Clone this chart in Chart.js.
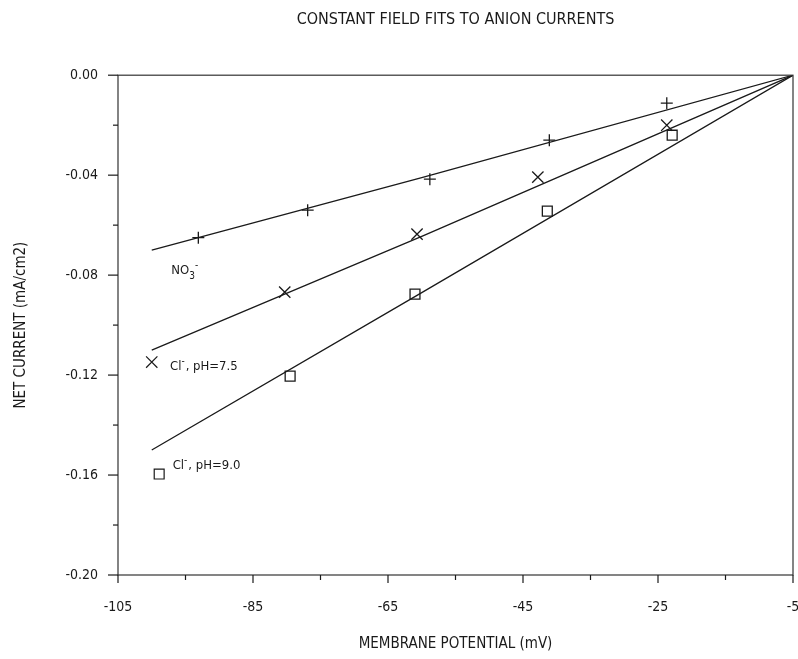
<!DOCTYPE html>
<html>
<head>
<meta charset="utf-8">
<script src="https://cdn.jsdelivr.net/npm/chart.js@4.4.1/dist/chart.umd.min.js"></script>
<style>
  html, body { margin: 0; padding: 0; background: #fff; overflow: hidden; }
  #chart { display: block; }
</style>
</head>
<body>
<canvas id="chart" width="798" height="659"></canvas>
<script>
const FONT = "'Liberation Sans Narrow', 'DejaVu Sans Condensed', 'Arial Narrow', sans-serif";
const INK = "#1a1a1a";

// measured currents (mA/cm2) at membrane potential (mV)
const no3X = [-93.1, -76.9, -58.8, -41.1, -23.7];
const no3Y = [-0.065, -0.054, -0.0416, -0.026, -0.0112];
const cl75X = [-80.3, -60.7, -42.8, -23.7];
const cl75Y = [-0.0868, -0.0636, -0.0408, -0.020];
const cl90X = [-79.5, -61.0, -41.4, -22.9];
const cl90Y = [-0.1204, -0.0876, -0.0544, -0.024];

// constant field fit curves
const fitX = [-100, -60, -5];
const no3Fit = [-0.070, -0.041, 0];
const cl75Fit = [-0.110, -0.0645, 0];
const cl90Fit = [-0.150, -0.087, 0];

// labels inside the plot, in data units
const notes = [
  { x: -97.1, y: -0.0784, marker: null, parts: [["NO", 0], ["3", 1], ["-", -1]] },
  { x: -97.3, y: -0.1168, marker: { x: -100, y: -0.1148, style: "crossRot", r: 8 }, parts: [["Cl", 0], ["-", -1], [", pH=7.5", 0]] },
  { x: -96.9, y: -0.1564, marker: { x: -98.9, y: -0.1596, style: "rect", r: 7 }, parts: [["Cl", 0], ["-", -1], [", pH=9.0", 0]] }
];

const pts = (xs, ys) => xs.map((x, i) => ({ x: x, y: ys[i] }));

function drawParts(ctx, parts, x, y) {
  let cx = x;
  parts.forEach(p => {
    const t = p[0], pos = p[1];
    ctx.font = (pos === 0 ? 13 : 10) + "px " + FONT;
    const dy = pos === 1 ? 5 : (pos === -1 ? -6 : 0);
    ctx.fillText(t, cx, y + dy);
    cx += ctx.measureText(t).width + (pos === -1 ? 1 : 0);
  });
}

const framePlugin = {
  id: "frame",
  afterDraw(chart) {
    const { ctx, chartArea: a, scales } = chart;
    ctx.save();
    ctx.strokeStyle = "#333";
    ctx.lineWidth = 1.2;
    ctx.strokeRect(a.left, a.top, a.right - a.left, a.bottom - a.top);
    // tick marks pointing outward, long on labelled ticks
    ctx.strokeStyle = INK;
    ctx.lineWidth = 1.2;
    scales.x.ticks.forEach((t, i) => {
      const px = scales.x.getPixelForValue(t.value);
      const len = i % 2 === 0 ? 8 : 5;
      ctx.beginPath();
      ctx.moveTo(px, a.bottom);
      ctx.lineTo(px, a.bottom + len);
      ctx.stroke();
    });
    scales.y.ticks.forEach((t, i) => {
      const py = scales.y.getPixelForValue(t.value);
      const len = i % 2 === 0 ? 10 : 5;
      ctx.beginPath();
      ctx.moveTo(a.left, py);
      ctx.lineTo(a.left - len, py);
      ctx.stroke();
    });

    // in-plot labels
    ctx.textBaseline = "middle";
    ctx.textAlign = "left";
    notes.forEach(n => {
      if (n.marker) {
        const mx = scales.x.getPixelForValue(n.marker.x);
        const my = scales.y.getPixelForValue(n.marker.y);
        ctx.fillStyle = "rgba(0,0,0,0)";
        Chart.helpers.drawPoint(ctx, { pointStyle: n.marker.style, radius: n.marker.r, rotation: 0, borderWidth: 1.2 }, mx, my);
      }
      ctx.fillStyle = INK;
      drawParts(ctx, n.parts, scales.x.getPixelForValue(n.x), scales.y.getPixelForValue(n.y));
    });
    ctx.restore();
  }
};

const fitStyle = { showLine: true, pointRadius: 0, borderColor: INK, borderWidth: 1.3, fill: false, tension: 0 };
const markStyle = { showLine: false, borderColor: INK, backgroundColor: "rgba(0,0,0,0)", pointBorderWidth: 1.3 };

new Chart(document.getElementById("chart"), {
  type: "scatter",
  data: {
    datasets: [
      Object.assign({ label: "NO3 fit", data: pts(fitX, no3Fit) }, fitStyle),
      Object.assign({ label: "Cl 7.5 fit", data: pts(fitX, cl75Fit) }, fitStyle),
      Object.assign({ label: "Cl 9.0 fit", data: pts(fitX, cl90Fit) }, fitStyle),
      Object.assign({ label: "NO3", data: pts(no3X, no3Y), pointStyle: "cross", pointRadius: 6 }, markStyle),
      Object.assign({ label: "Cl pH 7.5", data: pts(cl75X, cl75Y), pointStyle: "crossRot", pointRadius: 8 }, markStyle),
      Object.assign({ label: "Cl pH 9.0", data: pts(cl90X, cl90Y), pointStyle: "rect", pointRadius: 7 }, markStyle)
    ]
  },
  options: {
    responsive: false,
    animation: false,
    layout: { padding: 0, autoPadding: false },
    plugins: {
      legend: { display: false },
      tooltip: { enabled: false },
      title: {
        display: true,
        text: "CONSTANT FIELD FITS TO ANION CURRENTS",
        fullSize: false,
        color: INK,
        font: { family: FONT, size: 16, weight: "normal" },
        padding: { top: 10, bottom: 46 }
      }
    },
    scales: {
      x: {
        type: "linear",
        min: -105,
        max: -5,
        grid: { display: false, drawTicks: false },
        border: { display: false },
        ticks: {
          stepSize: 10,
          autoSkip: false,
          maxRotation: 0,
          padding: 24,
          color: INK,
          font: { family: FONT, size: 14 },
          callback: (v, i) => i % 2 === 0 ? String(v) : ""
        },
        title: {
          display: true,
          text: "MEMBRANE POTENTIAL (mV)",
          color: INK,
          font: { family: FONT, size: 15 },
          padding: { top: 0, bottom: 6 }
        },
        afterFit: s => { s.height = 84; s.paddingLeft = 0; s.paddingRight = 5; }
      },
      y: {
        min: -0.2,
        max: 0,
        grid: { display: false, drawTicks: false },
        border: { display: false },
        ticks: {
          stepSize: 0.02,
          autoSkip: false,
          padding: 20,
          color: INK,
          font: { family: FONT, size: 14 },
          callback: (v, i) => i % 2 === 0 ? v.toFixed(2) : ""
        },
        title: {
          display: true,
          text: "NET CURRENT (mA/cm2)",
          color: INK,
          font: { family: FONT, size: 15 },
          padding: { top: 12, bottom: 0 }
        },
        afterFit: s => { s.width = 118; }
      }
    }
  },
  plugins: [framePlugin]
});
</script>
</body>
</html>
